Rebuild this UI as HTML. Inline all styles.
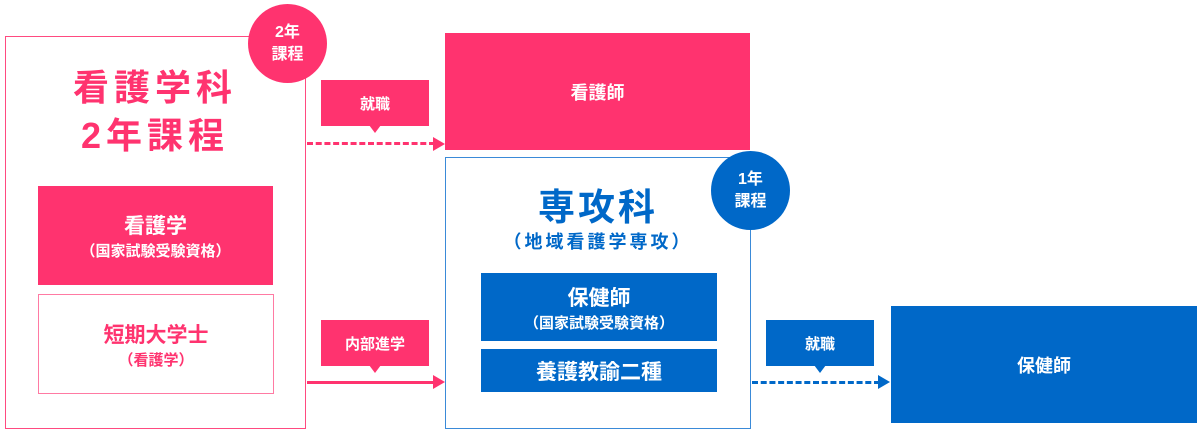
<!DOCTYPE html>
<html><head><meta charset="utf-8"><style>
body{margin:0;width:1201px;height:433px;background:#fff;position:relative;overflow:hidden;font-family:"Liberation Sans","Noto Sans CJK JP",sans-serif;font-weight:bold}
div{position:absolute;box-sizing:border-box}
.c{display:flex;flex-direction:column;align-items:center;justify-content:center;text-align:center}
.pk{background:#ff336f;color:#fff}
.bl{background:#0068c8;color:#fff}
.circ{border-radius:50%;font-size:16px;line-height:22px}
</style></head><body>
<div style="left:5px;top:36px;width:301px;height:393px;border:1px solid #ff4a80"></div>
<div class="c pk circ" style="left:248px;top:4px;width:79px;height:79px">2年<br>課程</div>
<div class="c" style="left:5px;top:64px;width:300px;color:#ff336f;font-size:36px;line-height:48px;letter-spacing:5px">看護学科<br>2年課程</div>
<div class="c pk" style="left:38px;top:186px;width:235px;height:99px"><span style="font-size:21px">看護学</span><span style="font-size:15px">（国家試験受験資格）</span></div>
<div class="c" style="left:38px;top:294px;width:236px;height:100px;border:1px solid #ff7aa3;color:#ff336f"><span style="font-size:21px">短期大学士</span><span style="font-size:15px">（看護学）</span></div>

<div class="c pk" style="left:321px;top:80px;width:108px;height:46px;font-size:15px">就職</div>
<div style="left:369px;top:125px;width:0;height:0;border-left:6px solid transparent;border-right:6px solid transparent;border-top:8px solid #ff336f"></div>
<div style="left:307px;top:142px;width:128px;border-top:3px dashed #ff336f"></div>
<div style="left:433px;top:137px;width:0;height:0;border-top:7px solid transparent;border-bottom:7px solid transparent;border-left:12px solid #ff336f"></div>

<div class="c pk" style="left:321px;top:320px;width:108px;height:46px;font-size:15px">内部進学</div>
<div style="left:369px;top:365px;width:0;height:0;border-left:6px solid transparent;border-right:6px solid transparent;border-top:8px solid #ff336f"></div>
<div style="left:307px;top:381px;width:128px;border-top:3px solid #ff336f"></div>
<div style="left:433px;top:375px;width:0;height:0;border-top:7px solid transparent;border-bottom:7px solid transparent;border-left:12px solid #ff336f"></div>

<div class="c pk" style="left:445px;top:33px;width:305px;height:117px;font-size:18px">看護師</div>

<div style="left:445px;top:157px;width:306px;height:272px;border:1px solid #3a8ad8"></div>
<div class="c bl circ" style="left:711px;top:151px;width:79px;height:79px">1年<br>課程</div>
<div class="c" style="left:445px;top:186px;width:306px;color:#0068c8;font-size:37px;line-height:44px;letter-spacing:3px">専攻科</div>
<div class="c" style="left:445px;top:230px;width:306px;color:#0068c8;font-size:18px;line-height:24px;letter-spacing:3px">（地域看護学専攻）</div>
<div class="c bl" style="left:481px;top:273px;width:236px;height:68px"><span style="font-size:21px">保健師</span><span style="font-size:15px">（国家試験受験資格）</span></div>
<div class="c bl" style="left:481px;top:349px;width:236px;height:43px;font-size:21px">養護教諭二種</div>

<div class="c bl" style="left:766px;top:320px;width:108px;height:46px;font-size:15px">就職</div>
<div style="left:814px;top:365px;width:0;height:0;border-left:6px solid transparent;border-right:6px solid transparent;border-top:8px solid #0068c8"></div>
<div style="left:752px;top:381px;width:128px;border-top:3px dashed #0068c8"></div>
<div style="left:878px;top:375px;width:0;height:0;border-top:7px solid transparent;border-bottom:7px solid transparent;border-left:12px solid #0068c8"></div>

<div class="c bl" style="left:891px;top:306px;width:306px;height:117px;font-size:18px">保健師</div>
</body></html>
